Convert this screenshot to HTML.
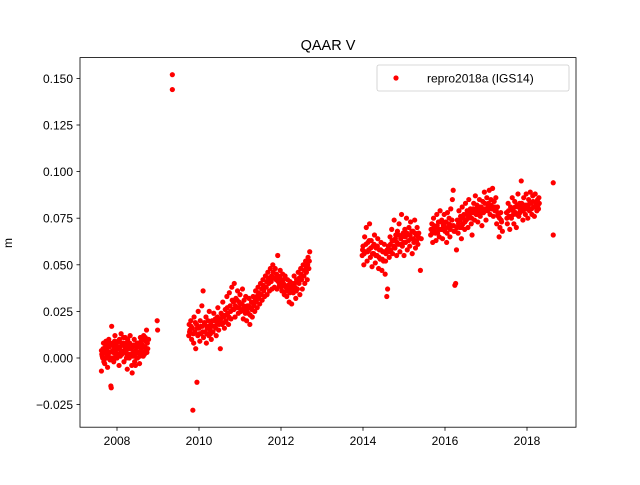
<!DOCTYPE html>
<html><head><meta charset="utf-8"><style>
body{margin:0;background:#fff}
svg text{font-family:"Liberation Sans","DejaVu Sans",sans-serif;fill:#000}
</style></head><body>
<svg id="chart" width="640" height="480" xmlns="http://www.w3.org/2000/svg">
<rect width="640" height="480" fill="#fff"/>
<text x="328" y="50" font-size="14.5" text-anchor="middle">QAAR V</text>
<text x="12" y="243" font-size="12" text-anchor="middle" transform="rotate(-90 12 243)">m</text>
<g id="marks"></g>
<g id="axes"></g>
<rect x="80" y="57.6" width="496" height="369.6" fill="none" stroke="#000" stroke-width="0.8"/>
<g>
<rect x="377" y="65" width="192" height="26" rx="2" fill="#fff" stroke="#ccc" stroke-width="0.8"/>
<circle cx="396" cy="78" r="2.6" fill="red"/>
<text x="427" y="82.5" font-size="12">repro2018a (IGS14)</text>
</g>
</svg>
<script>
const xTicks=[2008,2010,2012,2014,2016,2018];
const yTicks=[-0.025,0,0.025,0.05,0.075,0.1,0.125,0.15];
const yTickLabels=["−0.025","0.000","0.025","0.050","0.075","0.100","0.125","0.150"];
const seg2008=[[2007.62,-0.007],[2007.62,0.004],[2007.64,0.001],[2007.65,0.0],[2007.67,0.008],[2007.68,-0.002],[2007.7,-0.003],[2007.71,0.005],[2007.72,0.006],[2007.74,0.0],[2007.75,0.002],[2007.77,-0.005],[2007.78,0.007],[2007.8,0.01],[2007.82,0.003],[2007.83,-0.001],[2007.85,-0.015],[2007.86,-0.016],[2007.87,0.017],[2007.88,0.0],[2007.9,0.007],[2007.91,0.003],[2007.92,-0.002],[2007.94,0.009],[2007.95,0.012],[2007.97,0.004],[2007.98,0.0],[2008.0,0.0],[2008.01,0.006],[2008.02,0.009],[2008.04,0.002],[2008.05,-0.004],[2008.07,0.006],[2008.08,0.001],[2008.1,0.013],[2008.12,0.002],[2008.13,0.007],[2008.15,0.008],[2008.17,-0.002],[2008.18,0.004],[2008.2,0.011],[2008.22,0.004],[2008.23,0.0],[2008.25,-0.006],[2008.27,0.007],[2008.28,0.002],[2008.3,0.0],[2008.32,0.012],[2008.33,0.005],[2008.35,0.005],[2008.36,-0.004],[2008.37,-0.008],[2008.39,0.001],[2008.4,0.003],[2008.42,0.01],[2008.43,-0.002],[2008.45,-0.004],[2008.47,0.006],[2008.48,0.0],[2008.5,0.0],[2008.52,0.008],[2008.53,0.003],[2008.55,-0.003],[2008.57,0.011],[2008.58,0.005],[2008.6,0.004],[2008.62,0.007],[2008.64,0.001],[2008.65,0.012],[2008.67,0.002],[2008.68,0.006],[2008.7,0.009],[2008.72,0.015],[2008.73,0.003],[2008.75,0.005],[2008.77,0.01]];
const fill2008=[[2007.63,0.002],[2007.66,0.005],[2007.69,0.003],[2007.73,0.009],[2007.76,0.004],[2007.79,0.001],[2007.81,0.006],[2007.84,0.008],[2007.89,0.004],[2007.93,0.006],[2007.96,0.002],[2007.99,0.008],[2008.03,0.005],[2008.06,0.01],[2008.09,0.004],[2008.11,0.008],[2008.14,0.003],[2008.16,0.011],[2008.19,0.006],[2008.21,0.008],[2008.24,0.002],[2008.26,0.01],[2008.29,0.005],[2008.31,0.008],[2008.34,0.002],[2008.38,0.006],[2008.41,0.007],[2008.44,0.002],[2008.46,0.004],[2008.49,0.008],[2008.51,0.003],[2008.54,0.006],[2008.56,0.001],[2008.59,0.009],[2008.61,0.003],[2008.63,0.01],[2008.66,0.006],[2008.69,0.011],[2008.71,0.004],[2008.74,0.008]];
const seg2009=[[2008.98,0.02],[2008.99,0.015],[2009.35,0.152],[2009.35,0.144]];
const seg2010=[[2009.75,0.012],[2009.76,0.018],[2009.78,0.015],[2009.8,0.02],[2009.82,0.01],[2009.84,0.016],[2009.85,-0.028],[2009.87,0.008],[2009.88,0.022],[2009.9,0.014],[2009.92,0.005],[2009.94,0.018],[2009.95,-0.013],[2009.97,0.012],[2009.98,0.025],[2010.0,0.016],[2010.02,0.009],[2010.03,0.02],[2010.05,0.013],[2010.07,0.028],[2010.08,0.017],[2010.1,0.036],[2010.11,0.011],[2010.13,0.019],[2010.15,0.014],[2010.17,0.022],[2010.18,0.008],[2010.2,0.016],[2010.22,0.02],[2010.24,0.012],[2010.25,0.025],[2010.27,0.015],[2010.29,0.018],[2010.3,0.01],[2010.32,0.02],[2010.34,0.014],[2010.36,0.024],[2010.38,0.017],[2010.4,0.021],[2010.42,0.012],[2010.44,0.019],[2010.46,0.027],[2010.48,0.015],[2010.5,0.02],[2010.52,0.005],[2010.54,0.024],[2010.56,0.018],[2010.58,0.03],[2010.6,0.022],[2010.62,0.016],[2010.64,0.026],[2010.66,0.02],[2010.68,0.033],[2010.7,0.024],[2010.72,0.018],[2010.74,0.035],[2010.76,0.028],[2010.78,0.021],[2010.8,0.038],[2010.82,0.026],[2010.84,0.03],[2010.86,0.04],[2010.88,0.022],[2010.9,0.032],[2010.92,0.027],[2010.94,0.036],[2010.96,0.024],[2010.98,0.03],[2011.0,0.034],[2011.02,0.025],[2011.04,0.029],[2011.06,0.037],[2011.08,0.021],[2011.1,0.031],[2011.12,0.026],[2011.14,0.033],[2011.16,0.02],[2011.18,0.028],[2011.2,0.024],[2011.22,0.032],[2011.24,0.018],[2011.26,0.027],[2011.28,0.03],[2011.3,0.022],[2011.32,0.033],[2011.34,0.028],[2011.36,0.025],[2011.38,0.036],[2011.4,0.03],[2011.42,0.027],[2011.44,0.038],[2011.46,0.032],[2011.48,0.029],[2011.5,0.04],[2011.52,0.034],[2011.54,0.031],[2011.56,0.042],[2011.58,0.036],[2011.6,0.033],[2011.62,0.044],[2011.64,0.038],[2011.66,0.034],[2011.68,0.046],[2011.7,0.04],[2011.72,0.036],[2011.74,0.048],[2011.76,0.041],[2011.78,0.037],[2011.8,0.05],[2011.82,0.043],[2011.84,0.038],[2011.86,0.048],[2011.88,0.042],[2011.9,0.037],[2011.92,0.055],[2011.94,0.044],[2011.96,0.039],[2011.98,0.047],[2012.0,0.041],[2012.02,0.036],[2012.04,0.045],[2012.06,0.04],[2012.08,0.034],[2012.1,0.044],[2012.12,0.038],[2012.14,0.033],[2012.16,0.042],[2012.18,0.037],[2012.2,0.03],[2012.22,0.041],[2012.24,0.036],[2012.26,0.029],[2012.28,0.04],[2012.3,0.035],[2012.32,0.044],[2012.34,0.038],[2012.36,0.032],[2012.38,0.042],[2012.4,0.037],[2012.42,0.046],[2012.44,0.04],[2012.46,0.034],[2012.48,0.048],[2012.5,0.042],[2012.52,0.037],[2012.54,0.05],[2012.56,0.044],[2012.58,0.04],[2012.6,0.052],[2012.62,0.046],[2012.64,0.042],[2012.66,0.054],[2012.68,0.048],[2012.7,0.057]];
const fill2010=[[2009.77,0.014],[2009.81,0.017],[2009.86,0.013],[2009.91,0.019],[2009.96,0.016],[2010.01,0.013],[2010.04,0.017],[2010.09,0.014],[2010.14,0.018],[2010.19,0.013],[2010.23,0.017],[2010.28,0.013],[2010.33,0.017],[2010.37,0.02],[2010.41,0.016],[2010.45,0.022],[2010.49,0.018],[2010.53,0.021],[2010.57,0.023],[2010.61,0.019],[2010.65,0.023],[2010.69,0.027],[2010.73,0.022],[2010.77,0.025],[2010.81,0.031],[2010.85,0.026],[2010.89,0.028],[2010.93,0.031],[2010.97,0.027],[2011.01,0.029],[2011.05,0.026],[2011.09,0.028],[2011.13,0.024],[2011.17,0.026],[2011.21,0.028],[2011.25,0.023],[2011.29,0.026],[2011.33,0.029],[2011.37,0.031],[2011.41,0.033],[2011.45,0.035],[2011.49,0.034],[2011.53,0.037],[2011.57,0.039],[2011.61,0.038],[2011.65,0.041],[2011.69,0.043],[2011.73,0.042],[2011.77,0.044],[2011.81,0.046],[2011.85,0.043],[2011.89,0.045],[2011.93,0.041],[2011.97,0.043],[2012.01,0.038],[2012.05,0.042],[2012.09,0.039],[2012.13,0.036],[2012.17,0.039],[2012.21,0.035],[2012.25,0.038],[2012.29,0.037],[2012.33,0.04],[2012.37,0.036],[2012.41,0.041],[2012.45,0.043],[2012.49,0.045],[2012.53,0.044],[2012.57,0.047],[2012.61,0.049],[2012.65,0.05],[2012.69,0.052]];
const seg2014=[[2013.98,0.055],[2014.0,0.06],[2014.02,0.05],[2014.04,0.065],[2014.06,0.057],[2014.08,0.07],[2014.1,0.052],[2014.12,0.062],[2014.14,0.058],[2014.16,0.072],[2014.18,0.054],[2014.2,0.063],[2014.22,0.049],[2014.24,0.06],[2014.26,0.056],[2014.28,0.066],[2014.3,0.051],[2014.32,0.059],[2014.34,0.055],[2014.36,0.064],[2014.38,0.048],[2014.4,0.058],[2014.42,0.053],[2014.44,0.062],[2014.46,0.047],[2014.48,0.057],[2014.5,0.052],[2014.52,0.061],[2014.54,0.045],[2014.56,0.056],[2014.58,0.033],[2014.6,0.037],[2014.62,0.06],[2014.64,0.054],[2014.66,0.065],[2014.68,0.058],[2014.7,0.069],[2014.72,0.056],[2014.74,0.063],[2014.76,0.074],[2014.78,0.059],[2014.8,0.066],[2014.82,0.055],[2014.84,0.068],[2014.86,0.061],[2014.88,0.072],[2014.9,0.057],[2014.92,0.064],[2014.94,0.077],[2014.96,0.06],[2014.98,0.067],[2015.0,0.055],[2015.02,0.069],[2015.04,0.062],[2015.06,0.075],[2015.08,0.058],[2015.1,0.066],[2015.12,0.07],[2015.14,0.06],[2015.16,0.073],[2015.18,0.064],[2015.2,0.056],[2015.22,0.068],[2015.24,0.062],[2015.26,0.074],[2015.28,0.059],[2015.3,0.066],[2015.32,0.07],[2015.34,0.061],[2015.36,0.067],[2015.4,0.047],[2015.42,0.064]];
const fill2014=[[2013.99,0.058],[2014.03,0.056],[2014.07,0.061],[2014.11,0.057],[2014.15,0.063],[2014.19,0.059],[2014.23,0.056],[2014.27,0.061],[2014.31,0.055],[2014.35,0.06],[2014.39,0.054],[2014.43,0.058],[2014.47,0.053],[2014.51,0.057],[2014.55,0.052],[2014.59,0.058],[2014.63,0.057],[2014.67,0.061],[2014.71,0.063],[2014.75,0.06],[2014.79,0.064],[2014.83,0.062],[2014.87,0.066],[2014.91,0.061],[2014.95,0.065],[2014.99,0.062],[2015.03,0.065],[2015.07,0.067],[2015.11,0.063],[2015.15,0.066],[2015.19,0.068],[2015.23,0.064],[2015.27,0.067],[2015.31,0.063],[2015.35,0.065]];
const seg2016=[[2015.65,0.066],[2015.68,0.072],[2015.7,0.062],[2015.72,0.075],[2015.74,0.068],[2015.76,0.07],[2015.78,0.063],[2015.8,0.077],[2015.82,0.067],[2015.84,0.073],[2015.86,0.065],[2015.88,0.079],[2015.9,0.069],[2015.92,0.074],[2015.94,0.064],[2015.96,0.071],[2015.98,0.077],[2016.0,0.068],[2016.02,0.073],[2016.04,0.062],[2016.06,0.078],[2016.08,0.07],[2016.1,0.075],[2016.12,0.065],[2016.14,0.08],[2016.16,0.071],[2016.18,0.085],[2016.2,0.09],[2016.22,0.068],[2016.24,0.039],[2016.26,0.04],[2016.28,0.058],[2016.3,0.074],[2016.32,0.067],[2016.34,0.079],[2016.36,0.07],[2016.38,0.076],[2016.4,0.064],[2016.42,0.081],[2016.44,0.072],[2016.46,0.077],[2016.48,0.069],[2016.5,0.083],[2016.52,0.074],[2016.54,0.079],[2016.56,0.07],[2016.58,0.085],[2016.6,0.076],[2016.62,0.08],[2016.64,0.072],[2016.66,0.066],[2016.68,0.078],[2016.7,0.083],[2016.72,0.074],[2016.74,0.087],[2016.76,0.077],[2016.78,0.082],[2016.8,0.073],[2016.82,0.079],[2016.84,0.085],[2016.86,0.076],[2016.88,0.081],[2016.9,0.071],[2016.92,0.084],[2016.94,0.078],[2016.96,0.089],[2016.98,0.08],[2017.0,0.074],[2017.02,0.086],[2017.04,0.079],[2017.06,0.083],[2017.08,0.09],[2017.1,0.077],[2017.12,0.085],[2017.14,0.08],[2017.16,0.091],[2017.18,0.076],[2017.2,0.084],[2017.22,0.079],[2017.24,0.086],[2017.26,0.072],[2017.28,0.081],[2017.3,0.076],[2017.32,0.065],[2017.34,0.07],[2017.36,0.078],[2017.38,0.073],[2017.4,0.068]];
const fill2016=[[2015.66,0.069],[2015.69,0.067],[2015.73,0.071],[2015.77,0.067],[2015.81,0.071],[2015.85,0.069],[2015.89,0.073],[2015.93,0.069],[2015.97,0.072],[2016.01,0.07],[2016.05,0.067],[2016.09,0.072],[2016.13,0.069],[2016.17,0.074],[2016.21,0.071],[2016.25,0.068],[2016.29,0.07],[2016.33,0.072],[2016.37,0.074],[2016.41,0.07],[2016.45,0.075],[2016.49,0.073],[2016.53,0.077],[2016.57,0.075],[2016.61,0.078],[2016.65,0.075],[2016.69,0.08],[2016.73,0.078],[2016.77,0.08],[2016.81,0.077],[2016.85,0.081],[2016.89,0.078],[2016.93,0.08],[2016.97,0.083],[2017.01,0.08],[2017.05,0.082],[2017.09,0.08],[2017.13,0.082],[2017.17,0.08],[2017.21,0.081],[2017.25,0.079],[2017.29,0.077],[2017.33,0.075],[2017.37,0.074]];
const seg2018=[[2017.5,0.078],[2017.52,0.072],[2017.54,0.083],[2017.56,0.076],[2017.58,0.069],[2017.6,0.081],[2017.62,0.075],[2017.64,0.086],[2017.66,0.079],[2017.68,0.072],[2017.7,0.084],[2017.72,0.078],[2017.74,0.07],[2017.76,0.082],[2017.78,0.088],[2017.8,0.076],[2017.82,0.083],[2017.84,0.079],[2017.86,0.095],[2017.88,0.081],[2017.9,0.074],[2017.92,0.086],[2017.94,0.08],[2017.96,0.077],[2017.98,0.088],[2018.0,0.082],[2018.02,0.075],[2018.04,0.085],[2018.06,0.079],[2018.08,0.089],[2018.1,0.083],[2018.12,0.077],[2018.14,0.087],[2018.16,0.081],[2018.18,0.076],[2018.2,0.088],[2018.22,0.082],[2018.24,0.079],[2018.26,0.085],[2018.28,0.08],[2018.3,0.083],[2018.64,0.094],[2018.64,0.066]];
const fill2018=[[2017.51,0.075],[2017.55,0.079],[2017.59,0.076],[2017.63,0.08],[2017.67,0.077],[2017.71,0.081],[2017.75,0.077],[2017.79,0.081],[2017.83,0.078],[2017.87,0.083],[2017.91,0.079],[2017.95,0.082],[2017.99,0.08],[2018.03,0.081],[2018.07,0.083],[2018.11,0.08],[2018.15,0.084],[2018.19,0.081],[2018.23,0.084],[2018.27,0.082],[2018.29,0.086]];
const X=v=>117+(v-2008)*41;
const Y=v=>358-v*1864;
const NS="http://www.w3.org/2000/svg";
const marks=document.getElementById('marks');
[seg2008,fill2008,seg2009,seg2010,fill2010,seg2014,fill2014,seg2016,fill2016,seg2018,fill2018].forEach(seg=>seg.forEach(p=>{
 const c=document.createElementNS(NS,'circle');
 
 
 c.setAttribute('cx',X(p[0]));c.setAttribute('cy',Y(p[1]));c.setAttribute('r',2.6);c.setAttribute('fill','red');
 marks.appendChild(c);
}));
const axes=document.getElementById('axes');
xTicks.forEach(t=>{
 const l=document.createElementNS(NS,'line');
 
 
 l.setAttribute('x1',X(t));l.setAttribute('x2',X(t));l.setAttribute('y1',427.2);l.setAttribute('y2',430.7);l.setAttribute('stroke','#000');l.setAttribute('stroke-width',0.8);
 axes.appendChild(l);
 const tx=document.createElementNS(NS,'text');
 
 
 tx.setAttribute('x',X(t));tx.setAttribute('y',445);tx.setAttribute('font-size','12');tx.setAttribute('text-anchor','middle');
 tx.textContent=t;axes.appendChild(tx);
});
yTicks.forEach((t,i)=>{
 const l=document.createElementNS(NS,'line');
 
 
 l.setAttribute('x1',76.5);l.setAttribute('x2',80);l.setAttribute('y1',Y(t));l.setAttribute('y2',Y(t));l.setAttribute('stroke','#000');l.setAttribute('stroke-width',0.8);
 axes.appendChild(l);
 const tx=document.createElementNS(NS,'text');
 
 
 tx.setAttribute('x',73);tx.setAttribute('y',Y(t)+4.5);tx.setAttribute('font-size','12');tx.setAttribute('text-anchor','end');
 tx.textContent=yTickLabels[i];axes.appendChild(tx);
});
</script>
</body></html>
